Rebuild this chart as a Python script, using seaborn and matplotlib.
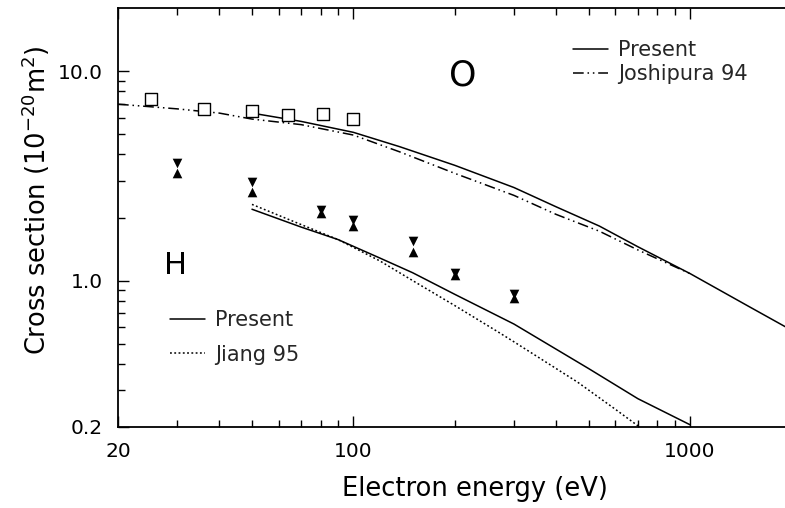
import numpy as np
import pandas as pd
import matplotlib
matplotlib.use("Agg")
import matplotlib.pyplot as plt
from matplotlib.lines import Line2D
from matplotlib.ticker import FixedLocator, NullFormatter
import seaborn as sns

# ---- data ----
# O atom, present calculation (solid)
o_present_e = [50, 70, 100, 137, 200, 300, 400, 538, 700, 1000, 1500, 2000]
o_present_q = [6.3, 5.75, 5.1, 4.36, 3.55, 2.78, 2.25, 1.82, 1.45, 1.08, 0.75, 0.58]

# O atom, Joshipura 94 (dash-dot-dot)
o_josh_e = [20, 30, 40, 50, 70, 100, 137, 200, 300, 400, 538, 700, 1000]
o_josh_q = [6.95, 6.6, 6.3, 5.9, 5.55, 4.95, 4.12, 3.25, 2.55, 2.07, 1.72, 1.40, 1.08]

# O atom, measurements (open squares)
o_exp_e = [25, 36, 50, 64, 81, 100]
o_exp_q = [7.39, 6.62, 6.42, 6.14, 6.21, 5.88]

# H atom, present calculation (solid)
h_present_e = [50, 70, 90, 120, 150, 200, 300, 500, 700, 1000]
h_present_q = [2.19, 1.8, 1.57, 1.28, 1.09, 0.86, 0.62, 0.38, 0.273, 0.205]

# H atom, Jiang 95 (dotted)
h_jiang_e = [50, 70, 90, 120, 150, 200, 267, 300, 464, 600, 708]
h_jiang_q = [2.31, 1.85, 1.57, 1.24, 1.0, 0.76, 0.573, 0.51, 0.327, 0.243, 0.2]

# H atom, measurements (hourglass: upper / lower value)
h_exp_e = [30, 50, 80, 100, 150, 200, 300]
h_exp_hi = [3.65, 2.96, 2.18, 1.94, 1.54, 1.09, 0.86]
h_exp_lo = [3.27, 2.64, 2.10, 1.82, 1.37, 1.06, 0.83]

x_major = [20, 100, 1000]
x_major_labels = ["20", "100", "1000"]
y_major = [0.2, 1.0, 10.0]
y_major_labels = ["0.2", "1.0", "10.0"]

sns.set_style("ticks")
plt.rcParams["font.family"] = ["DejaVu Sans"]

fig = plt.figure(figsize=(7.85, 5.08), dpi=100)
ax = fig.add_axes([118 / 785, 1 - 427 / 508, 673.4 / 785, 419 / 508])
ax.set_xscale("log")
ax.set_yscale("log")

lw = 1.1
dashdotdot = (0, (7, 2.5, 1, 2.5, 1, 2.5))
dotted = (0, (1.2, 1.6))

sns.lineplot(x=o_present_e, y=o_present_q, ax=ax, color="k", lw=lw,
             estimator=None, sort=False)
sns.lineplot(x=o_josh_e, y=o_josh_q, ax=ax, color="k", lw=lw,
             linestyle=dashdotdot, estimator=None, sort=False)
sns.lineplot(x=h_present_e, y=h_present_q, ax=ax, color="k", lw=lw,
             estimator=None, sort=False)
sns.lineplot(x=h_jiang_e, y=h_jiang_q, ax=ax, color="k", lw=lw,
             linestyle=dotted, estimator=None, sort=False)

sns.scatterplot(x=o_exp_e, y=o_exp_q, ax=ax, marker="s", s=64,
                facecolor="white", edgecolor="k", linewidth=1.0, zorder=5)
sns.scatterplot(x=h_exp_e, y=h_exp_hi, ax=ax, marker="v", s=48,
                color="k", linewidth=0, zorder=5)
sns.scatterplot(x=h_exp_e, y=h_exp_lo, ax=ax, marker="^", s=48,
                color="k", linewidth=0, zorder=5)

ax.set_xlim(20, 2000)
ax.set_ylim(0.2, 20)

# ticks
ax.xaxis.set_major_locator(FixedLocator(x_major))
ax.xaxis.set_minor_locator(FixedLocator([30, 40, 50, 60, 70, 80, 90,
                                         200, 300, 400, 500, 600, 700, 800, 900]))
ax.set_xticklabels(x_major_labels)
ax.xaxis.set_minor_formatter(NullFormatter())
ax.yaxis.set_major_locator(FixedLocator(y_major))
ax.yaxis.set_minor_locator(FixedLocator([0.3, 0.4, 0.5, 0.6, 0.7, 0.8, 0.9,
                                         2, 3, 4, 5, 6, 7, 8, 9]))
ax.set_yticklabels(y_major_labels)
ax.yaxis.set_minor_formatter(NullFormatter())
ax.tick_params(which="both", direction="in", top=True, right=False,
               width=1.0, color="k", labelsize=14.5, labelcolor="k")
ax.tick_params(which="major", length=8, pad=11)
ax.tick_params(which="minor", length=5)

for side in ["left", "bottom", "top"]:
    ax.spines[side].set_linewidth(1.3)
    ax.spines[side].set_color("k")
ax.spines["right"].set_visible(False)

ax.set_xlabel("Electron energy (eV)", fontsize=18.5, color="k")
ax.set_ylabel("Cross section (10$^{-20}$m$^{2}$)", fontsize=18.5, color="k")
ax.xaxis.set_label_coords(0.530, -0.118)
ax.yaxis.set_label_coords(-0.098, 0.542)

ax.text(211, 9.57, "O", fontsize=25, ha="center", va="center", color="k")
ax.text(29.7, 1.18, "H", fontsize=22, ha="center", va="center", color="k")

# legends
leg_o = [Line2D([], [], color="k", lw=lw),
         Line2D([], [], color="k", lw=lw, linestyle=dashdotdot)]
leg1 = ax.legend(leg_o, ["Present", "Joshipura 94"], loc="upper left",
                 bbox_to_anchor=(573 / 785, 1 - 40 / 508),
                 bbox_transform=fig.transFigure, frameon=False, fontsize=15,
                 handlelength=1.7, handletextpad=0.45, labelspacing=0.2,
                 borderpad=0, borderaxespad=0)
ax.add_artist(leg1)
leg_h = [Line2D([], [], color="k", lw=lw),
         Line2D([], [], color="k", lw=lw, linestyle=dotted)]
ax.legend(leg_h, ["Present", "Jiang 95"], loc="upper left",
          bbox_to_anchor=(170 / 785, 1 - 310 / 508),
          bbox_transform=fig.transFigure, frameon=False, fontsize=15,
          handlelength=1.7, handletextpad=0.45, labelspacing=0.7,
          borderpad=0, borderaxespad=0)

fig.savefig("out.png", dpi=100)
